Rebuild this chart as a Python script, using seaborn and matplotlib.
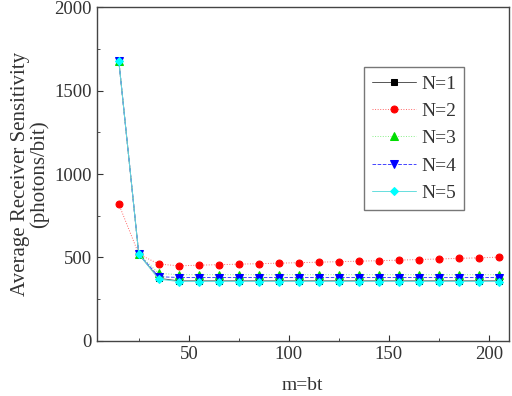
import pandas as pd
import matplotlib
matplotlib.use("Agg")
import matplotlib.pyplot as plt
from matplotlib.ticker import MultipleLocator
import seaborn as sns

# m = bt values
m_bt = [15, 25, 35, 45, 55, 65, 75, 85, 95, 105, 115, 125, 135, 145, 155, 165, 175, 185, 195, 205]

# average receiver sensitivity (photons/bit) per N
sens_n1 = [1680, 520, 375, 360, 360, 360, 360, 360, 360, 360, 360, 360, 360, 360, 360, 360, 360, 360, 360, 360]
sens_n2 = [820, 520, 461, 450, 454, 457, 460, 463, 466, 469, 472, 475, 478, 481, 484, 488, 491, 495, 498, 502]
sens_n3 = [1680, 520, 405, 397, 397, 397, 397, 397, 397, 397, 397, 397, 397, 397, 397, 397, 397, 397, 397, 397]
sens_n4 = [1680, 520, 385, 380, 380, 380, 380, 380, 380, 380, 380, 380, 380, 380, 380, 380, 380, 380, 380, 380]
sens_n5 = [1680, 520, 370, 356, 356, 356, 356, 356, 356, 356, 356, 356, 356, 356, 356, 356, 356, 356, 356, 356]

labels = ["N=1", "N=2", "N=3", "N=4", "N=5"]

sns.set_style("ticks")
plt.rcParams["font.family"] = ["Liberation Serif", "DejaVu Serif"]
plt.rcParams["xtick.direction"] = "in"
plt.rcParams["ytick.direction"] = "in"

fig = plt.figure(figsize=(5.12, 3.96), dpi=100)
ax = fig.add_axes([0.189, 0.139, 0.805, 0.843])

styles = [
    dict(color="black", line="#555555", marker="s", linestyle="-", markersize=4.5),
    dict(color="red", line="#ff6666", marker="o", linestyle=":", markersize=5),
    dict(color="#00dd00", line="#88ee88", marker="^", linestyle=":", markersize=5.5),
    dict(color="blue", line="#4444ff", marker="v", linestyle="--", markersize=5.5),
    dict(color="cyan", line="#66dddd", marker="D", linestyle="-", markersize=4.5),
]

series = [sens_n1, sens_n2, sens_n3, sens_n4, sens_n5]
for vals, lab, st in zip(series, labels, styles):
    df = pd.DataFrame({"m": m_bt, "sens": vals})
    sns.lineplot(data=df, x="m", y="sens", ax=ax, label=lab,
                 color=st["line"], marker=st["marker"], linestyle=st["linestyle"],
                 markersize=st["markersize"], linewidth=0.7,
                 markerfacecolor=st["color"], markeredgecolor=st["color"])

ax.set_xlim(4, 210)
ax.set_ylim(0, 2000)
ax.xaxis.set_major_locator(MultipleLocator(50))
ax.xaxis.set_minor_locator(MultipleLocator(25))
ax.yaxis.set_major_locator(MultipleLocator(500))
ax.yaxis.set_minor_locator(MultipleLocator(250))
ax.tick_params(which="major", length=4, labelsize=13.5, colors="#333333")
ax.tick_params(which="minor", length=2.5, colors="#333333")

for sp in ax.spines.values():
    sp.set_visible(True)
    sp.set_color("#444444")
    sp.set_linewidth(1.0)

ax.set_xlabel("m=bt", fontsize=14, color="#333333", labelpad=10)
ax.set_ylabel("Average Receiver Sensitivity\n(photons/bit)", fontsize=15,
              color="#333333", linespacing=0.95, labelpad=4)

leg = ax.legend(loc="upper left", bbox_to_anchor=(0.648, 0.82), fontsize=14,
                frameon=True, fancybox=False, edgecolor="#555555",
                handlelength=2.3, borderpad=0.4, labelspacing=0.5,
                handletextpad=0.25, borderaxespad=0)
leg.get_frame().set_linewidth(1.0)
for t in leg.get_texts():
    t.set_color("#333333")

fig.savefig("out.png", dpi=100)
